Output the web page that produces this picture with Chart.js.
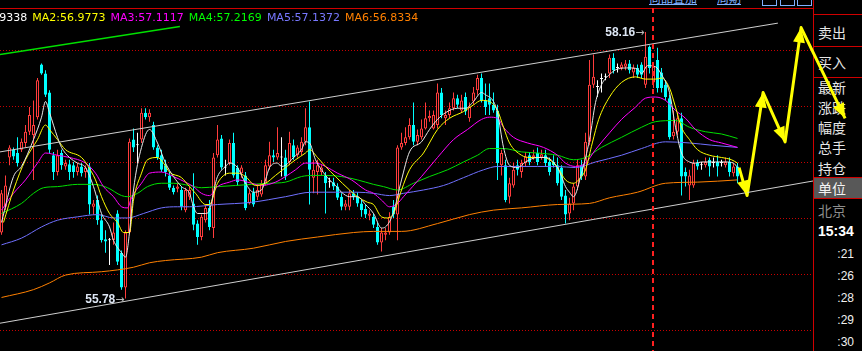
<!DOCTYPE html>
<html lang="zh">
<head>
<meta charset="utf-8">
<title>K线</title>
<script src="https://cdn.jsdelivr.net/npm/chart.js@4.4.1/dist/chart.umd.min.js"></script>
<style>
  html, body { margin: 0; padding: 0; background: #000; overflow: hidden; }
  #wrap { position: relative; width: 862px; height: 351px; overflow: hidden; font-family: "DejaVu Sans", sans-serif; }
  #myChart { position: absolute; left: 0; top: 0; z-index: 2; }
  .rule { position: absolute; background: #d00000; z-index: 1; }
  #maBar { position: absolute; left: -46px; top: 11px; display: flex; gap: 5px; font-size: 11px; line-height: 14px; white-space: nowrap; z-index: 3; }
  .link { position: absolute; top: -8px; font: 12px/12px "Noto Sans CJK SC"; color: #7fb0ff; text-decoration: underline; }
  .btn { position: absolute; top: -10px; width: 13px; height: 14px; border: 1px solid #7fb0ff; }
  .side { position: absolute; left: 818px; font: 14px/20px "Noto Sans CJK SC"; color: #e6e6e6; z-index: 1; }
  .tm { position: absolute; right: 8px; font: 12px/14px "Liberation Sans"; color: #f0f0f0; z-index: 1; }
  .mark { position: absolute; z-index: 3; font: bold 12px/14px "Liberation Sans"; color: #dde6f4; white-space: nowrap; }
  .mark span { color: #b8b8b8; font: 11px/14px "DejaVu Sans"; }
</style>
</head>
<body>
<div id="wrap">
  <div id="maBar"></div>
  <div class="link" style="left:649px">商品叠加</div>
  <div class="link" style="left:717px">周期</div>
  <div class="btn" style="left:762px"></div>
  <div class="btn" style="left:780px"></div>
  <div class="btn" style="left:797px"></div>

  <div class="rule" style="left:0;top:8px;width:813px;height:1px"></div>
  <div class="rule" style="left:813px;top:0;width:1px;height:351px"></div>
  <div class="rule" style="left:813px;top:14px;width:49px;height:1px"></div>
  <div class="rule" style="left:813px;top:46px;width:49px;height:1px"></div>
  <div class="rule" style="left:813px;top:77px;width:49px;height:1px"></div>
  <div class="rule" style="left:813px;top:177px;width:49px;height:1px"></div>
  <div class="rule" style="left:813px;top:198px;width:49px;height:1px"></div>
  <div style="position:absolute;left:814px;top:178px;width:48px;height:20px;background:#585858;z-index:1"></div>

  <div class="side" style="top:22px">卖出</div>
  <div class="side" style="top:52px">买入</div>
  <div class="side" style="top:77px">最新</div>
  <div class="side" style="top:97px">涨跌</div>
  <div class="side" style="top:117px">幅度</div>
  <div class="side" style="top:137px">总手</div>
  <div class="side" style="top:158px">持仓</div>
  <div class="side" style="top:178px;color:#f4f4f4">单位</div>
  <div class="side" style="top:200px;color:#8c8c8c">北京</div>
  <div class="side" style="top:223px;font:bold 14px/16px 'Liberation Sans';color:#fff">15:34</div>
  <div id="times"></div>

  <canvas id="myChart" width="862" height="351"></canvas>
  <div id="hiMark" class="mark"></div>
  <div id="loMark" class="mark"></div>
</div>

<script>
// setup - candles, one value per bar
const open = [56.37,56.60,57.04,57.11,57.08,57.11,57.17,57.27,57.24,57.40,
  57.87,57.79,57.62,57.06,56.91,57.08,56.96,56.98,56.97,56.91,
  56.96,56.91,56.96,56.60,56.66,56.48,56.31,56.30,56.30,56.54,
  56.19,55.88,56.37,57.20,57.15,57.20,57.44,57.40,57.33,57.13,
  57.06,56.97,56.88,56.77,56.76,56.75,56.57,56.69,56.63,56.45,
  56.33,56.48,56.59,56.41,57.06,57.21,56.95,56.99,57.17,56.95,
  56.90,56.88,56.63,56.73,56.69,56.71,56.81,56.96,57.06,57.04,
  57.04,57.04,57.00,57.15,57.06,57.09,57.18,57.31,56.86,56.91,
  56.91,56.88,56.82,56.82,56.78,56.69,56.60,56.60,56.72,56.69,
  56.63,56.58,56.52,56.51,56.42,56.28,56.35,56.37,56.60,56.53,
  57.13,57.17,57.22,57.33,57.18,57.22,57.30,57.39,57.30,57.33,
  57.62,57.39,57.42,57.48,57.57,57.46,57.58,57.39,57.54,57.64,
  57.75,57.55,57.57,57.51,57.46,56.97,56.97,56.69,56.79,56.97,
  56.91,56.99,57.06,57.04,57.08,57.04,57.06,57.00,57.00,56.97,
  56.95,56.70,56.54,56.63,56.78,56.97,56.87,57.18,57.69,57.67,
  57.74,57.76,57.79,57.93,57.84,57.84,57.85,57.88,57.80,57.84,
  57.87,57.69,58.03,57.71,57.91,57.80,57.69,57.57,57.23,57.27,
  57.39,56.91,56.79,56.79,56.99,56.97,56.97,57.02,56.99,57.00,
  56.99,56.97,57.00,56.90,56.96];
const high = [56.75,56.88,57.15,57.13,57.22,57.21,57.33,57.49,57.55,57.75,
  57.88,57.82,57.64,57.09,57.11,57.11,57.02,57.02,57.00,56.99,
  56.99,56.97,56.99,56.66,56.70,56.53,56.39,56.32,56.46,56.57,
  56.21,56.39,57.21,57.30,57.26,57.48,57.48,57.47,57.36,57.15,
  57.11,57.02,56.91,56.79,56.81,56.78,56.77,56.78,56.90,56.48,
  56.53,56.62,56.66,57.08,57.33,57.24,57.02,57.20,57.26,56.97,
  56.97,56.91,56.75,56.77,56.79,56.84,57.02,57.18,57.11,57.31,
  57.22,57.11,57.27,57.20,57.15,57.22,57.48,57.54,57.02,57.02,
  56.97,56.91,56.86,56.86,56.81,56.72,56.66,56.75,56.75,56.73,
  56.66,56.62,56.57,56.54,56.46,56.41,56.41,56.55,56.66,57.15,
  57.26,57.31,57.39,57.53,57.29,57.38,57.53,57.46,57.46,57.70,
  57.66,57.46,57.53,57.62,57.60,57.60,57.62,57.53,57.67,57.78,
  57.79,57.70,57.70,57.62,57.51,57.11,57.02,56.86,56.99,57.02,
  57.02,57.09,57.09,57.11,57.13,57.11,57.11,57.04,57.06,57.04,
  56.97,56.75,56.68,56.81,57.02,57.02,57.26,57.91,57.96,57.73,
  57.79,57.79,57.96,57.97,57.88,57.89,57.91,57.91,57.87,57.87,
  57.89,58.16,58.04,57.89,58.02,57.84,57.73,57.60,57.46,57.44,
  57.44,56.95,56.93,57.02,57.02,57.00,57.04,57.04,57.04,57.06,
  57.02,57.04,57.04,56.99,56.99];
const low = [56.35,56.57,56.97,57.02,56.96,57.09,57.13,57.24,56.84,57.38,
  57.78,57.58,57.08,56.84,56.88,56.93,56.93,56.84,56.86,56.88,
  56.87,56.86,56.53,56.53,56.44,56.28,56.19,56.08,56.26,56.08,
  55.86,55.78,56.35,57.09,56.99,57.17,57.38,57.36,57.11,57.02,
  56.91,56.87,56.75,56.71,56.73,56.57,56.55,56.66,56.39,56.26,
  56.30,56.46,56.39,56.32,57.04,56.93,56.88,56.97,56.86,56.79,
  56.86,56.57,56.62,56.60,56.66,56.69,56.79,56.93,57.00,57.02,
  56.87,56.84,56.97,57.02,57.04,57.06,57.15,56.62,56.72,56.71,
  56.88,56.54,56.77,56.75,56.66,56.57,56.57,56.57,56.66,56.60,
  56.51,56.50,56.48,56.41,56.26,56.20,56.30,56.35,56.50,56.30,
  57.11,57.15,57.20,57.15,57.15,57.20,57.29,57.36,57.29,57.30,
  57.39,57.33,57.39,57.46,57.48,57.44,57.42,57.36,57.51,57.60,
  57.53,57.42,57.42,57.44,56.84,56.88,56.64,56.63,56.77,56.88,
  56.86,56.96,56.97,57.02,56.97,57.02,56.96,56.88,56.95,56.79,
  56.66,56.45,56.48,56.57,56.75,56.84,56.84,57.15,57.66,57.58,
  57.62,57.73,57.75,57.79,57.80,57.82,57.82,57.79,57.75,57.75,
  57.75,57.66,57.79,57.66,57.62,57.62,57.55,57.20,57.20,57.24,
  56.70,56.78,56.66,56.77,56.93,56.93,56.95,56.87,56.95,56.87,
  56.96,56.95,56.87,56.87,56.81];
const close = [56.72,56.79,57.13,57.05,56.99,57.18,57.27,57.42,57.33,57.73,
  57.79,57.60,57.11,56.91,57.06,56.97,56.99,56.91,56.91,56.96,
  56.90,56.95,56.62,56.63,56.48,56.30,56.29,56.30,56.37,56.11,
  55.88,56.37,57.18,57.13,57.15,57.44,57.40,57.44,57.13,57.04,
  56.93,56.91,56.77,56.73,56.78,56.60,56.75,56.75,56.44,56.33,
  56.51,56.59,56.42,57.04,57.20,56.95,56.95,57.17,56.88,56.82,
  56.95,56.59,56.72,56.62,56.75,56.81,56.97,57.06,57.04,57.08,
  57.04,56.87,57.17,57.04,57.13,57.18,57.31,56.93,56.93,56.97,
  56.95,56.81,56.82,56.78,56.68,56.60,56.63,56.72,56.69,56.63,
  56.57,56.53,56.54,56.44,56.28,56.37,56.37,56.51,56.53,57.13,
  57.17,57.22,57.33,57.18,57.24,57.30,57.39,57.41,57.42,57.62,
  57.42,57.42,57.48,57.57,57.51,57.55,57.45,57.49,57.62,57.75,
  57.55,57.49,57.51,57.46,56.99,57.08,56.66,56.81,56.93,56.93,
  56.99,57.05,57.00,57.06,57.00,57.07,56.99,56.91,56.97,56.81,
  56.69,56.53,56.63,56.78,56.97,56.87,57.18,57.69,57.76,57.67,
  57.74,57.76,57.93,57.82,57.84,57.87,57.88,57.82,57.84,57.78,
  57.78,57.94,57.84,57.85,57.66,57.66,57.58,57.22,57.27,57.39,
  56.87,56.87,56.88,56.99,56.96,56.97,57.00,56.96,56.99,56.96,
  56.99,57.00,56.91,56.96,56.87];

// moving averages: [bar index, price]
const ma1 = [[0,56.46],[3,56.87],[5,56.96],[8,57.20],[10,57.40],[11,57.54],[12,57.44],[14,57.22],[15,57.13],[17,57.04],[19,56.99],[21,56.95],[23,56.78],[25,56.54],[27,56.42],[28,56.30],[30,56.19],[31,56.15],[32,56.37],[33,56.75],[35,57.13],[37,57.29],[39,57.17],[41,56.99],[43,56.87],[45,56.78],[47,56.72],[48,56.60],[49,56.54],[51,56.54],[52,56.57],[53.5,56.81],[54,56.87],[56,56.96],[57,56.99],[59,56.95],[61,56.81],[63,56.73],[65,56.75],[66,56.84],[67,56.95],[69,56.99],[70,56.96],[71,56.97],[73,57.04],[75,57.11],[76,57.18],[77,57.17],[78.5,57.02],[80,56.93],[82,56.84],[83.5,56.79],[85,56.73],[87,56.69],[89,56.69],[91,56.62],[93,56.54],[95,56.41],[96,56.42],[98,56.55],[100,56.84],[102,57.09],[105,57.18],[107,57.29],[109,57.38],[111,57.44],[114,57.48],[116,57.48],[118,57.54],[120,57.62],[121,57.60],[123,57.54],[124,57.44],[125.5,57.13],[127,56.97],[129,56.95],[131,57.00],[134,57.04],[136,57.04],[139,56.95],[140,56.87],[141,56.78],[142,56.73],[143,56.69],[145,56.90],[147,57.20],[148.5,57.53],[150,57.69],[152,57.78],[154,57.83],[157,57.84],[159,57.83],[160,57.79],[161.5,57.86],[163.5,57.85],[165,57.78],[167,57.62],[168.5,57.31],[170,57.08],[172,57.00],[173.5,56.99],[175,57.00],[178.5,57.00],[181,57.00],[183,56.99],[184,56.95]];
const ma2 = [[0.5,56.46],[3,56.75],[6,57.02],[9,57.20],[11,57.33],[12,57.29],[14,57.20],[16,57.11],[20,57.04],[21.5,56.97],[23.5,56.84],[25,56.69],[27,56.54],[29,56.46],[30.5,56.37],[32,56.37],[33,56.66],[35,56.90],[36.5,57.02],[39,57.04],[40.5,56.99],[42,56.91],[45,56.86],[47,56.78],[48.5,56.72],[51,56.62],[52,56.62],[54,56.81],[57,56.90],[59,56.90],[61,56.87],[63.5,56.79],[66,56.81],[68.5,56.88],[71,56.95],[73.5,57.02],[76,57.08],[77,57.11],[79,57.04],[81,56.96],[83.5,56.87],[87,56.75],[89,56.69],[91.5,56.64],[93,56.62],[95,56.51],[96.5,56.50],[98,56.54],[100,56.75],[102,56.93],[105.5,57.08],[109,57.29],[112,57.39],[115.5,57.45],[118,57.51],[120,57.55],[122,57.54],[124,57.46],[125.5,57.31],[127,57.17],[130,57.06],[132,57.04],[135.5,57.04],[137,57.02],[139,56.95],[141,56.84],[143,56.81],[145,56.87],[146,56.93],[147.7,57.17],[149.3,57.38],[152,57.58],[155,57.71],[158.5,57.76],[161,57.74],[163.5,57.74],[165,57.75],[167,57.66],[168.5,57.49],[170,57.31],[172,57.20],[174,57.11],[177,57.06],[180,57.04],[182.5,57.02],[184,56.99]];
const ma3 = [[0,56.57],[3,56.72],[6,56.84],[9,56.99],[11,57.08],[14,57.06],[17,57.04],[21,56.99],[23.5,56.90],[25.5,56.78],[28,56.69],[30,56.60],[31.5,56.59],[32.5,56.68],[35,56.81],[37,56.90],[40,56.91],[43,56.87],[46.5,56.81],[48,56.78],[50,56.72],[52,56.70],[54,56.78],[57,56.82],[59,56.84],[62.5,56.81],[65,56.79],[68.5,56.82],[71,56.87],[73.5,56.93],[76,56.99],[78.5,56.99],[81,56.96],[84,56.90],[87.5,56.84],[91,56.75],[93,56.72],[95,56.66],[97,56.60],[99,56.63],[100.5,56.69],[105,56.87],[109,57.04],[113,57.20],[116.5,57.29],[120,57.38],[122,57.40],[124,57.39],[125.5,57.31],[128,57.22],[131.5,57.17],[135.5,57.13],[139,57.06],[141,56.99],[143.5,56.96],[146,56.99],[148.5,57.11],[152,57.26],[155,57.38],[158.5,57.49],[161,57.57],[163.5,57.58],[166,57.55],[168.5,57.46],[171,57.39],[173.5,57.29],[177,57.20],[180,57.17],[184,57.13]];
const ma4 = [[0,56.54],[5,56.63],[8,56.72],[10.5,56.77],[14,56.78],[19,56.80],[23,56.80],[26.5,56.77],[30,56.70],[31.5,56.69],[34,56.72],[36.5,56.78],[40,56.81],[43,56.81],[47,56.79],[50,56.77],[54,56.78],[58.5,56.79],[62.5,56.80],[67,56.81],[71,56.82],[75,56.87],[78,56.88],[81,56.88],[85,56.87],[89,56.84],[93,56.80],[95.5,56.78],[99,56.75],[103,56.81],[107,56.87],[111.5,56.93],[115.5,57.00],[119,57.06],[122,57.12],[125.5,57.12],[130,57.09],[134,57.08],[139,57.06],[143,57.02],[146,57.04],[150,57.13],[155,57.22],[160,57.31],[163.5,57.36],[168.5,57.37],[172,57.31],[176,57.27],[180,57.25],[184,57.21]];
const ma5 = [[0,56.26],[5,56.32],[10,56.42],[14,56.48],[19,56.51],[24,56.53],[28,56.50],[31.5,56.50],[35.5,56.54],[40,56.59],[44,56.60],[47,56.60],[54,56.62],[62.5,56.64],[71,56.69],[77.5,56.73],[83.5,56.73],[89,56.73],[93,56.72],[97,56.70],[100.5,56.72],[105.5,56.75],[110.5,56.79],[115.5,56.86],[120.5,56.93],[124,56.96],[129,56.96],[134,56.96],[139,56.96],[143.5,56.95],[148.5,57.00],[155,57.06],[160,57.12],[166,57.18],[172,57.17],[177.5,57.15],[184,57.13]];
const ma6 = [[0,55.79],[8,55.86],[12,55.92],[16,55.99],[25,56.02],[33,56.06],[37,56.10],[41,56.12],[50,56.15],[54,56.19],[63,56.23],[71,56.29],[79,56.33],[88,56.37],[93,56.38],[100,56.38],[109,56.45],[117,56.53],[123,56.57],[130,56.59],[139,56.62],[147,56.63],[152,56.68],[159,56.73],[166,56.81],[174,56.82],[184,56.84]];

const maNames = ['MA1', 'MA2', 'MA3', 'MA4', 'MA5', 'MA6'];
const maLast = ['56.9338', '56.9773', '57.1117', '57.2169', '57.1372', '56.8334'];
const maColors = ['#ffffff', '#ffff00', '#ff00ff', '#00ff00', '#7878ff', '#ff8000'];

const yGrid = [55.5, 56, 56.5, 57, 57.5, 58];
const timeTicks = [':21', ':26', ':28', ':29', ':30'];

// drawn objects on the chart: [bar index, price]
const upperChannel = [[-0.375, 57.09], [194.1, 58.24]];
const lowerChannel = [[-0.375, 55.56], [202.875, 56.83]];
const greenTrend = [[-0.375, 57.96], [44.6, 58.21]];
const arrowPath = [[184.4, 56.95], [186.4, 56.70], [190.4, 57.62], [195.9, 57.18], [199.9, 58.20], [210.9, 57.39]];
const cursorIndex = 163;

// header + time column
document.getElementById('maBar').innerHTML = maNames
  .map((n, k) => `<span style="color:${maColors[k]}">${n}:${maLast[k]}</span>`).join('');
document.getElementById('times').innerHTML = timeTicks
  .map((t, k) => `<div class="tm" style="top:${247 + 22 * k}px">${t}</div>`).join('');

const idx = open.map((_, i) => i);
const kColor = i => close[i] > open[i] ? '#ff3c3c' : close[i] < open[i] ? '#00ffff' : '#ffffff';
const kFill = i => close[i] > open[i] ? '#000000' : kColor(i);
const pts = arr => arr.map(([x, y]) => ({ x, y }));

const maLine = (arr, color) => ({
  type: 'line', data: pts(arr), borderColor: color, borderWidth: 1,
  pointRadius: 0, cubicInterpolationMode: 'monotone', order: 1
});
const plainLine = (arr, color, w) => ({
  type: 'line', data: pts(arr), borderColor: color, borderWidth: w,
  pointRadius: 0, tension: 0, order: 0
});

const data = {
  datasets: [
    plainLine(upperChannel, '#cfcfcf', 1),
    plainLine(lowerChannel, '#cfcfcf', 1),
    plainLine(greenTrend, '#00e000', 1.5),
    Object.assign(plainLine(arrowPath, '#ffff00', 3), { clip: false, borderJoinStyle: 'round' }),
    maLine(ma1, '#e8e8e8'),
    maLine(ma2, '#ffff00'),
    maLine(ma3, '#ff00ff'),
    maLine(ma4, '#00e000'),
    maLine(ma5, '#7070ff'),
    maLine(ma6, '#ff8000'),
    {
      type: 'bar', data: idx.map(i => ({ x: i, y: [open[i], close[i]] })),
      backgroundColor: idx.map(kFill), borderColor: idx.map(kColor),
      borderWidth: 1, borderSkipped: false, barThickness: 3, minBarLength: 1,
      inflateAmount: 0, grouped: false, order: 2
    },
    {
      type: 'bar', data: idx.map(i => ({ x: i, y: [low[i], high[i]] })),
      backgroundColor: idx.map(kColor), borderWidth: 0, barThickness: 1,
      inflateAmount: 0, grouped: false, order: 3
    }
  ]
};

// red dotted price grid, cursor line, arrow heads, high/low marks
const overlay = {
  id: 'overlay',
  beforeDatasetsDraw(chart) {
    const { ctx, chartArea, scales: { y } } = chart;
    ctx.save();
    ctx.strokeStyle = '#c80000';
    ctx.lineWidth = 1;
    ctx.setLineDash([1, 2]);
    yGrid.forEach(v => {
      const py = Math.round(y.getPixelForValue(v)) + 0.5;
      ctx.beginPath();
      ctx.moveTo(chartArea.left, py);
      ctx.lineTo(chartArea.right, py);
      ctx.stroke();
    });
    ctx.restore();
  },
  afterDatasetsDraw(chart) {
    const { ctx, chartArea, scales: { x, y } } = chart;
    ctx.save();
    ctx.strokeStyle = '#ff2020';
    ctx.lineWidth = 2;
    ctx.setLineDash([5, 4]);
    const cx = Math.floor(x.getPixelForValue(cursorIndex));
    ctx.beginPath();
    ctx.moveTo(cx, chartArea.top);
    ctx.lineTo(cx, chartArea.bottom);
    ctx.stroke();
    ctx.restore();

    ctx.save();
    ctx.fillStyle = '#ffff00';
    for (let k = 1; k < arrowPath.length; k++) {
      const px = x.getPixelForValue(arrowPath[k][0]), py = y.getPixelForValue(arrowPath[k][1]);
      const qx = x.getPixelForValue(arrowPath[k - 1][0]), qy = y.getPixelForValue(arrowPath[k - 1][1]);
      const a = Math.atan2(py - qy, px - qx);
      const bx = px - 15 * Math.cos(a), by = py - 15 * Math.sin(a);
      ctx.beginPath();
      ctx.moveTo(px, py);
      ctx.lineTo(bx - 6 * Math.sin(a), by + 6 * Math.cos(a));
      ctx.lineTo(bx + 6 * Math.sin(a), by - 6 * Math.cos(a));
      ctx.closePath();
      ctx.fill();
    }
    ctx.restore();
  },
  afterDraw(chart) {
    const { scales: { x, y } } = chart;
    const hi = high.indexOf(Math.max(...high));
    const lo = low.indexOf(Math.min(...low));
    const place = (el, i, v) => {
      el.innerHTML = `${v.toFixed(2)}<span>→</span>`;
      el.style.right = (862 - x.getPixelForValue(i) + 1) + 'px';
      el.style.top = (y.getPixelForValue(v) - 7) + 'px';
    };
    place(document.getElementById('hiMark'), hi, high[hi]);
    place(document.getElementById('loMark'), lo, low[lo]);
  }
};

// config
const config = {
  type: 'line',
  data,
  options: {
    responsive: false,
    animation: false,
    devicePixelRatio: 1,
    events: [],
    layout: { padding: { top: 8, right: 49, left: 0, bottom: 0 } },
    plugins: { legend: { display: false }, tooltip: { enabled: false } },
    scales: {
      x: { type: 'linear', min: -0.375, max: 202.875, offset: false, display: false },
      y: {
        type: 'linear', min: 55.312, max: 58.375,
        afterBuildTicks: s => { s.ticks = yGrid.map(v => ({ value: v })); },
        afterFit: s => { s.width = 0; },
        ticks: { display: false },
        grid: { display: false, drawTicks: false },
        border: { display: false }
      }
    }
  },
  plugins: [overlay]
};

// render init block
const myChart = new Chart(document.getElementById('myChart'), config);
</script>
</body>
</html>
